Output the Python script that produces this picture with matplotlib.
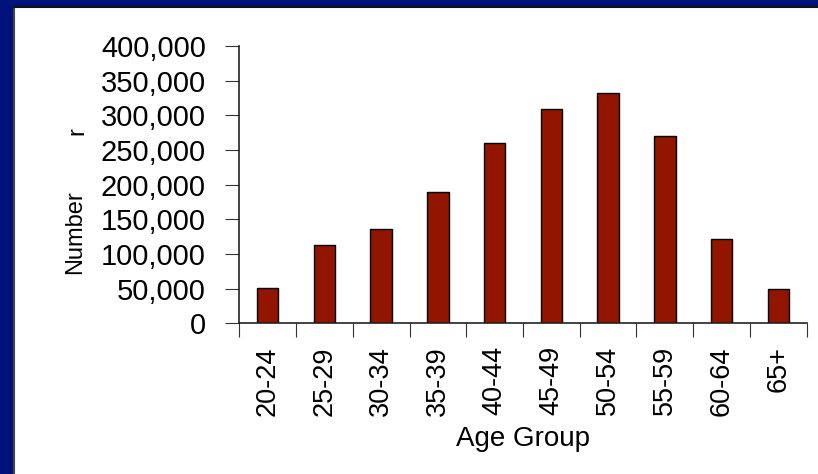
import numpy as np
import matplotlib
matplotlib.use("Agg")
import matplotlib.pyplot as plt
from matplotlib.patches import Rectangle
from matplotlib.ticker import FuncFormatter, FixedLocator, NullFormatter

plt.rcParams['font.family'] = ['Liberation Sans', 'DejaVu Sans']

# Dados
age_groups = ["20-24", "25-29", "30-34", "35-39", "40-44",
              "45-49", "50-54", "55-59", "60-64", "65+"]
numbers = [51000, 113000, 136000, 190000, 260000,
           309000, 332000, 270000, 121000, 49000]
y_ticks = [0, 50000, 100000, 150000, 200000, 250000, 300000, 350000, 400000]

fig = plt.figure(figsize=(8.18, 4.74), dpi=100)

# moldura azul (esquerda e topo)
navy = "#00127A"
fig.patches.append(Rectangle((0, 0), 12/818, 1, transform=fig.transFigure,
                             color=navy, zorder=0))
fig.patches.append(Rectangle((0, 1 - 5/474), 1, 5/474, transform=fig.transFigure,
                             color=navy, zorder=0))
fig.lines.append(plt.Line2D([13.5/818, 13.5/818], [0, 1 - 6.5/474],
                            transform=fig.transFigure, color="#444444", lw=1.5))
fig.lines.append(plt.Line2D([13.5/818, 1], [1 - 6.5/474, 1 - 6.5/474],
                            transform=fig.transFigure, color="#111111", lw=1.5))

ax = fig.add_axes([239.3/818, 1 - 323.3/474, (806.7 - 239.3)/818, (323.3 - 46)/474])
x = np.arange(len(age_groups))
ax.bar(x, numbers, width=0.38, color="#921500", edgecolor="black", linewidth=1)

ax.set_xlim(-0.5, len(age_groups) - 0.5)
ax.set_ylim(0, 400000)
ax.set_yticks(y_ticks)
ax.yaxis.set_major_formatter(FuncFormatter(lambda v, p: f"{int(v):,}"))

# ticks nos limites das categorias, rótulos no centro
ax.xaxis.set_major_locator(FixedLocator(np.arange(-0.5, len(age_groups), 1.0)))
ax.xaxis.set_major_formatter(NullFormatter())
ax.xaxis.set_minor_locator(FixedLocator(x))
ax.set_xticklabels(age_groups, minor=True, rotation=90)
ax.tick_params(axis='x', which='minor', length=0, labelsize=19.5, pad=16.5)
ax.tick_params(axis='x', which='major', length=10, color="#333333")
ax.tick_params(axis='y', length=10, labelsize=21, pad=14, color="#333333")

for s in ["top", "right"]:
    ax.spines[s].set_visible(False)
for s in ["left", "bottom"]:
    ax.spines[s].set_color("#222222")
    ax.spines[s].set_linewidth(1.2)

ax.set_xlabel("Age Group", fontsize=20, labelpad=7)
fig.text(75/818, 1 - 232/474, "Number", rotation=90, fontsize=17,
         ha="center", va="center")
fig.text(77/818, 1 - 131/474, "r", rotation=90, fontsize=17,
         ha="center", va="center")

fig.savefig("out.png", dpi=100)
